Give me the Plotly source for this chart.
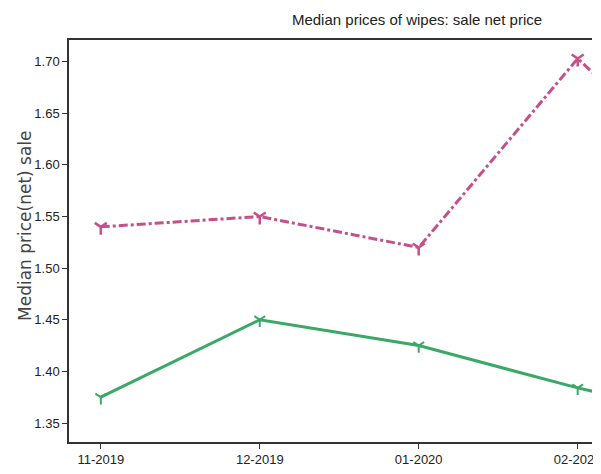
import plotly.graph_objects as go

months = ["11-2019", "12-2019", "01-2020", "02-2020", "03-2020"]
sale_net_a = [1.54, 1.55, 1.52, 1.703, 1.56]
sale_net_b = [1.375, 1.45, 1.425, 1.384, 1.349]
y_ticks = [1.35, 1.40, 1.45, 1.50, 1.55, 1.60, 1.65, 1.70]

xi = list(range(len(months)))

fig = go.Figure()
fig.add_trace(go.Scatter(
    x=xi, y=sale_net_a, mode="lines+markers",
    line=dict(color="#c4508a", width=3, dash="dashdot"),
    marker=dict(symbol="y-down", size=10, line=dict(color="#c4508a", width=2.5)),
    showlegend=False))
fig.add_trace(go.Scatter(
    x=xi, y=sale_net_b, mode="lines+markers",
    line=dict(color="#3aa866", width=3),
    marker=dict(symbol="y-down", size=9, line=dict(color="#3aa866", width=2)),
    showlegend=False))

font_ticks = "Liberation Sans, Arial, sans-serif"

# page body has an 8px margin; work in page pixels and subtract it
OFF = 8
W, H = 601 - OFF, 474 - OFF
plot_left, plot_right, plot_top, plot_bottom = 69, 592, 40, 442
L = plot_left - OFF
R = W - (plot_right - OFF)
T = plot_top - OFF
B = H - (plot_bottom - OFF)
pw, ph = W - L - R, H - T - B

fig.update_layout(
    width=W, height=H,
    margin=dict(l=L, r=R, t=T, b=B, autoexpand=False),
    paper_bgcolor="white", plot_bgcolor="white",
    title=dict(text="Median prices of wipes: sale net price", x=(417 - OFF) / W, xref="container",
               xanchor="center", y=1 - (20 - OFF) / H, yref="container", yanchor="middle",
               font=dict(family=font_ticks, size=15, color="#222")),
    xaxis=dict(range=[-0.2, 3.09], tickmode="array", tickvals=xi, ticktext=months,
               automargin=False, ticklabeloverflow="allow",
               showgrid=False, zeroline=False, showline=True, linecolor="#333", linewidth=1.5,
               mirror=True, ticks="outside", ticklen=5, tickcolor="#333",
               tickfont=dict(family=font_ticks, size=13, color="#222")),
    yaxis=dict(range=[1.3316, 1.721], tickmode="array", tickvals=y_ticks,
               ticktext=[f"{v:.2f}" for v in y_ticks], automargin=False,
               showgrid=False, zeroline=False, showline=True, linecolor="#333", linewidth=1.5,
               ticks="outside", ticklen=5, tickcolor="#333",
               tickfont=dict(family=font_ticks, size=13, color="#222")),
    annotations=[dict(text="Median price(net) sale", textangle=-90, showarrow=False,
                      xref="paper", yref="paper", x=(25 - plot_left) / pw,
                      y=(plot_bottom - 226) / ph,
                      xanchor="center", yanchor="middle",
                      font=dict(family="DejaVu Sans, sans-serif", size=17, color="#444"))],
)

fig.write_html("out.html")
